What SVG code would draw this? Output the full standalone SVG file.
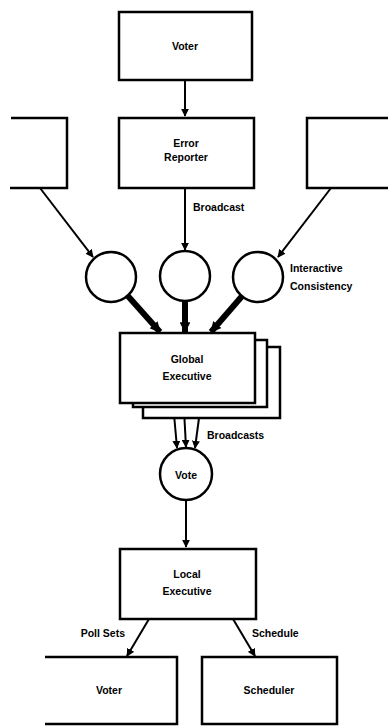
<svg xmlns="http://www.w3.org/2000/svg" width="388" height="726" viewBox="0 0 388 726">
  <defs>
    <style>
      .box { fill: #fff; stroke: #000; stroke-width: 2.5; }
      .open { fill: none; stroke: #000; stroke-width: 2.5; }
      .circ { fill: #fff; stroke: #000; stroke-width: 2.5; }
      .line { fill: none; stroke: #000; stroke-width: 2; }
      .thick { fill: none; stroke: #000; stroke-width: 6; }
      .lbl { font-family: "Liberation Sans", Arial, sans-serif; font-size: 10.5px; font-weight: bold; fill: #000; }
      .mid { text-anchor: middle; }
    </style>
    <marker id="ah" viewBox="0 0 10 10" refX="9" refY="5" markerWidth="4" markerHeight="4" orient="auto" markerUnits="strokeWidth">
      <path d="M0,0 L10,5 L0,10 z" fill="#000"/>
    </marker>
    <marker id="ahs" viewBox="0 0 10 10" refX="9" refY="5" markerWidth="1.8" markerHeight="1.8" orient="auto" markerUnits="strokeWidth">
      <path d="M0,0 L10,5 L0,10 z" fill="#000"/>
    </marker>
  </defs>

  <g id="connectors">
    <line class="line" x1="185" y1="80" x2="185" y2="116" marker-end="url(#ah)"/>
    <line class="line" x1="40" y1="188" x2="93" y2="257" marker-end="url(#ah)"/>
    <line class="line" x1="185" y1="188" x2="185" y2="250" marker-end="url(#ah)"/>
    <line class="line" x1="331" y1="188" x2="278" y2="257" marker-end="url(#ah)"/>
    <line class="thick" x1="127" y1="295" x2="160" y2="332" marker-end="url(#ahs)"/>
    <line class="thick" x1="185" y1="301" x2="185" y2="332" marker-end="url(#ahs)"/>
    <line class="thick" x1="243" y1="295" x2="211" y2="332" marker-end="url(#ahs)"/>
    <line class="line" x1="173" y1="403" x2="177" y2="448" marker-end="url(#ah)"/>
    <line class="line" x1="184" y1="410" x2="186" y2="447" marker-end="url(#ah)"/>
    <line class="line" x1="199" y1="418" x2="195" y2="448" marker-end="url(#ah)"/>
    <line class="line" x1="186" y1="500" x2="186" y2="547" marker-end="url(#ah)"/>
    <line class="line" x1="149" y1="619" x2="127" y2="656" marker-end="url(#ah)"/>
    <line class="line" x1="233" y1="619" x2="255" y2="656" marker-end="url(#ah)"/>
  </g>

  <g id="voter-top">
    <rect class="box" x="119" y="12" width="133" height="68"/>
    <text class="lbl mid" x="185" y="50">Voter</text>
  </g>

  <g id="error-reporter">
    <rect class="box" x="119" y="118" width="135" height="70"/>
    <text class="lbl mid" x="186" y="147">Error</text>
    <text class="lbl mid" x="186" y="161">Reporter</text>
  </g>

  <g id="peer-left">
    <path class="open" d="M11,118 H67 V188 H10"/>
  </g>

  <g id="peer-right">
    <path class="open" d="M388,118 H307 V188 H388"/>
  </g>

  <text class="lbl" x="193" y="211">Broadcast</text>

  <g id="ic-left">
    <circle class="circ" cx="111" cy="277" r="25"/>
  </g>
  <g id="ic-middle">
    <circle class="circ" cx="185" cy="276" r="25"/>
  </g>
  <g id="ic-right">
    <circle class="circ" cx="258" cy="277" r="25"/>
  </g>

  <text class="lbl" x="290" y="272">Interactive</text>
  <text class="lbl" x="290" y="290">Consistency</text>

  <g id="global-executive">
    <rect class="box" x="143" y="347" width="137" height="71"/>
    <rect class="box" x="133" y="340" width="134" height="67"/>
    <rect class="box" x="120" y="333" width="135" height="70"/>
    <text class="lbl mid" x="187" y="363">Global</text>
    <text class="lbl mid" x="187" y="380">Executive</text>
  </g>

  <text class="lbl" x="207" y="439">Broadcasts</text>

  <g id="vote">
    <circle class="circ" cx="186" cy="474" r="26"/>
    <text class="lbl mid" x="186" y="479">Vote</text>
  </g>

  <g id="local-executive">
    <rect class="box" x="120" y="549" width="136" height="70"/>
    <text class="lbl mid" x="187" y="578">Local</text>
    <text class="lbl mid" x="187" y="595">Executive</text>
  </g>

  <text class="lbl" x="125" y="637" text-anchor="end">Poll Sets</text>
  <text class="lbl" x="252" y="637">Schedule</text>

  <g id="voter-bottom">
    <path class="open" d="M45,657 H177 V724 H45"/>
    <text class="lbl mid" x="109" y="694">Voter</text>
  </g>

  <g id="scheduler">
    <rect class="box" x="202" y="657" width="135" height="67"/>
    <text class="lbl mid" x="269" y="694">Scheduler</text>
  </g>
</svg>
